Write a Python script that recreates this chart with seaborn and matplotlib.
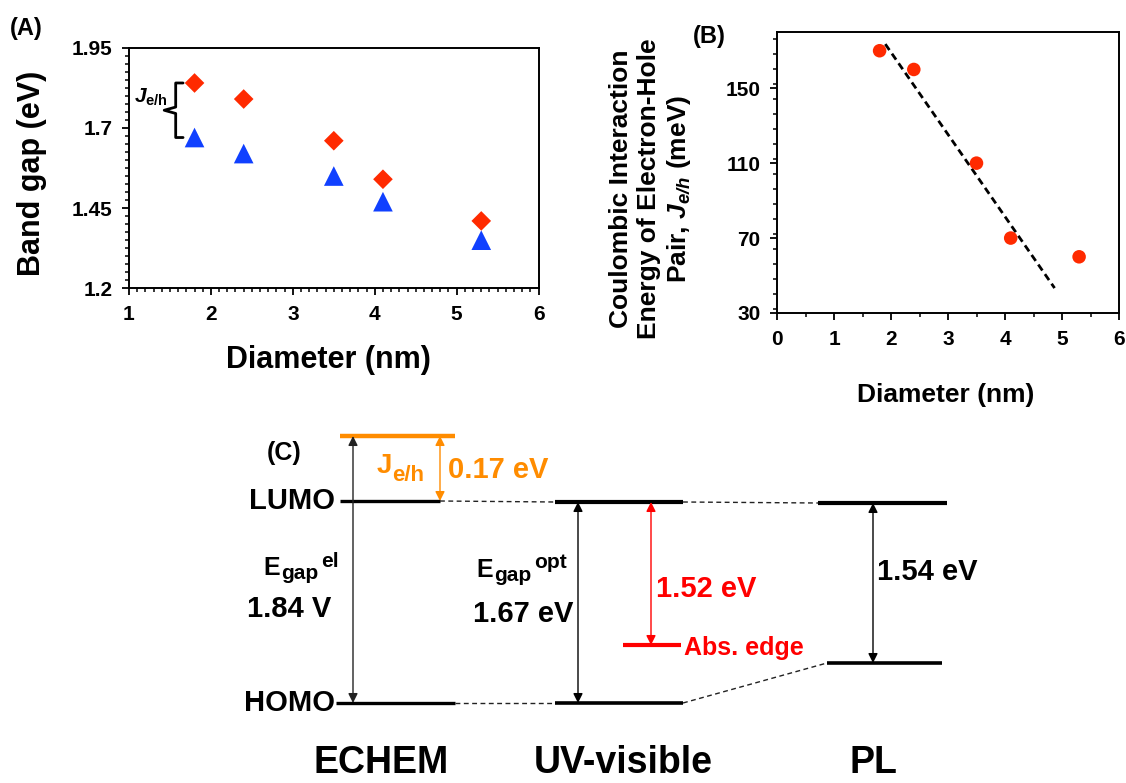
import numpy as np
import pandas as pd
import matplotlib
matplotlib.use("Agg")
import matplotlib.pyplot as plt
from matplotlib.ticker import MultipleLocator, FixedLocator
import seaborn as sns

# ------------------------------------------------------------------ data
diameter_nm = [1.8, 2.4, 3.5, 4.1, 5.3]
gap_echem_eV = [1.84, 1.79, 1.66, 1.54, 1.41]      # red diamonds
gap_optical_eV = [1.67, 1.62, 1.55, 1.47, 1.35]    # blue triangles
coulomb_meV = [170, 160, 110, 70, 60]              # panel B circles
fit_points_used = 4                                # linear fit over first 4 points
fit_x_range = [1.9, 4.87]                          # extent of the dashed fit line

xticks_A = [1, 2, 3, 4, 5, 6]
yticks_A = [1.2, 1.45, 1.7, 1.95]
xticks_B = [0, 1, 2, 3, 4, 5, 6]
yticks_B = [30, 70, 110, 150]

column_labels = ["ECHEM", "UV-visible", "PL"]
echem_gap_label = "1.84 V"
optical_gap_label = "1.67 eV"
abs_gap_label = "1.52 eV"
pl_gap_label = "1.54 eV"
jeh_value_label = "0.17 eV"

# ------------------------------------------------------------------ style
sns.set_theme(style="ticks")
plt.rcParams["font.family"] = ["Liberation Sans", "DejaVu Sans"]
plt.rcParams.update({
    "font.weight": "bold",
    "axes.labelweight": "bold",
    "text.color": "black",
    "axes.labelcolor": "black",
    "xtick.color": "black",
    "ytick.color": "black",
    "axes.edgecolor": "black",
    "mathtext.fontset": "custom",
    "mathtext.rm": "Liberation Sans:bold",
    "mathtext.bf": "Liberation Sans:bold",
    "mathtext.it": "Liberation Sans:italic",
    "mathtext.bfit": "Liberation Sans:italic:bold",
    "mathtext.sf": "Liberation Sans:bold",
})

RED = "#FF2A00"
BLUE = "#1040FF"
ORANGE = "#FF8C00"
PURE_RED = "#FF0000"

W, H = 1126, 783
fig = plt.figure(figsize=(W / 100, H / 100), dpi=100)

# overlay axes in pixel units for the schematic panel (C)
axC = fig.add_axes([0, 0, 1, 1])
axC.set_xlim(0, W)
axC.set_ylim(H, 0)
axC.axis("off")

axA = fig.add_axes([129 / W, 1 - 288.3 / H, 409.6 / W, 240.6 / H])
axB = fig.add_axes([777 / W, 1 - 313 / H, 342 / W, 281 / H])


def style_axes(ax):
    for s in ax.spines.values():
        s.set_visible(True)
        s.set_linewidth(1.4)
        s.set_color("black")
    ax.tick_params(which="major", direction="out", length=5, width=1.3,
                   labelsize=15, pad=7, colors="black")
    ax.tick_params(which="minor", direction="out", length=3, width=1.1,
                   colors="black")
    ax.tick_params(top=False, right=False, which="both")
    for lab in ax.get_xticklabels() + ax.get_yticklabels():
        lab.set_fontweight("bold")


# ------------------------------------------------------------------ panel A
sns.scatterplot(x=diameter_nm, y=gap_echem_eV, marker="D", color=RED, s=100,
                edgecolor="none", ax=axA, zorder=3)
sns.scatterplot(x=diameter_nm, y=gap_optical_eV, marker="^", color=BLUE, s=200,
                edgecolor="none", ax=axA, zorder=3)
axA.set_xlim(xticks_A[0], xticks_A[-1])
axA.set_ylim(yticks_A[0], yticks_A[-1])
axA.xaxis.set_major_locator(FixedLocator(xticks_A))
axA.yaxis.set_major_locator(FixedLocator(yticks_A))
axA.set_yticklabels([f"{v:g}" for v in yticks_A])
axA.xaxis.set_minor_locator(MultipleLocator(0.1))
axA.yaxis.set_minor_locator(MultipleLocator(0.025))
style_axes(axA)
axA.set_xlabel("Diameter (nm)", fontsize=22, fontweight="bold")
axA.set_ylabel("Band gap (eV)", fontsize=22, fontweight="bold")
axA.xaxis.label.set_va("center")
axA.yaxis.label.set_va("center")
axA.xaxis.set_label_coords(0.486, -0.298)
axA.yaxis.set_label_coords(-0.237, 0.479)

# J_e/h bracket spanning the first pair of points
y_top, y_bot = gap_echem_eV[0], gap_optical_eV[0]
y_mid = 0.5 * (y_top + y_bot)
bx, hook, tip = 1.57, 1.66, 1.43
axA.plot([hook, bx, bx, tip, bx, bx, hook],
         [y_top, y_top, y_mid + 0.01, y_mid, y_mid - 0.01, y_bot, y_bot],
         color="black", lw=2, solid_joinstyle="round", clip_on=False)
axA.text(1.48, 1.795, r"$\mathbfit{J}_{\mathrm{e/h}}$", fontsize=15,
         ha="right", va="center")
fig.text(26 / W, 1 - 28 / H, "(A)", fontsize=17, fontweight="bold",
         ha="center", va="center")

# ------------------------------------------------------------------ panel B
sns.scatterplot(x=diameter_nm, y=coulomb_meV, marker="o", color=RED, s=95,
                edgecolor="none", ax=axB, zorder=3)
slope, intercept = np.polyfit(diameter_nm[:fit_points_used],
                              coulomb_meV[:fit_points_used], 1)
fit_x = np.array(fit_x_range)
fit_y = slope * fit_x + intercept
sns.lineplot(x=fit_x, y=fit_y, color="black", lw=2, ax=axB, zorder=2)
axB.get_lines()[-1].set_dashes([2.6, 1.6])
axB.set_xlim(xticks_B[0], xticks_B[-1])
axB.set_ylim(30, 180)
axB.xaxis.set_major_locator(FixedLocator(xticks_B))
axB.yaxis.set_major_locator(FixedLocator(yticks_B))
axB.xaxis.set_minor_locator(MultipleLocator(0.5))
axB.yaxis.set_minor_locator(MultipleLocator(8))
style_axes(axB)
axB.set_xlabel("Diameter (nm)", fontsize=19, fontweight="bold")
axB.set_ylabel("Coulombic Interaction\nEnergy of Electron-Hole\n"
               r"Pair, $\mathbfit{J}_{\mathbfit{e/h}}$ (meV)",
               fontsize=19, fontweight="bold", multialignment="center")
axB.xaxis.label.set_va("center")
axB.yaxis.label.set_va("center")
axB.xaxis.set_label_coords(0.493, -0.292)
axB.yaxis.set_label_coords(-0.369, 0.441)
fig.text(709 / W, 1 - 37 / H, "(B)", fontsize=17, fontweight="bold",
         ha="center", va="center")

# ------------------------------------------------------------------ panel C (schematic)
# layout constants (pixel positions of the schematic)
Y_JEH, Y_LUMO, Y_HOMO = 436, 501, 703
Y_LUMO_UV, Y_ABS, Y_LUMO_PL, Y_HOMO_PL = 502, 645, 503, 663
levels = [  # x0, x1, y, color, lw
    (340, 455, Y_JEH, ORANGE, 3.2),
    (340, 440, Y_LUMO, "black", 2.4),
    (336, 455, Y_HOMO, "black", 2.4),
    (555, 683, Y_LUMO_UV, "black", 3.0),
    (555, 683, Y_HOMO, "black", 2.6),
    (623, 681, Y_ABS, PURE_RED, 3.0),
    (818, 947, Y_LUMO_PL, "black", 3.0),
    (827, 942, Y_HOMO_PL, "black", 2.6),
]
for x0, x1, y, c, lw in levels:
    axC.plot([x0, x1], [y, y], color=c, lw=lw, solid_capstyle="butt")

connectors = [
    ((440, Y_LUMO), (555, Y_LUMO_UV)),
    ((455, Y_HOMO), (555, Y_HOMO)),
    ((683, Y_LUMO_UV), (818, Y_LUMO_PL)),
    ((683, Y_HOMO), (827, Y_HOMO_PL)),
]
for (xa, ya), (xb, yb) in connectors:
    axC.plot([xa, xb], [ya, yb], color="#222222", lw=1.0, dashes=(3.5, 2.5))

arrows = [  # x, y_top, y_bottom, color
    (353, Y_JEH, Y_HOMO, "#222222"),
    (440, Y_JEH, Y_LUMO, ORANGE),
    (578, Y_LUMO_UV, Y_HOMO, "black"),
    (651, Y_LUMO_UV, Y_ABS, PURE_RED),
    (873, Y_LUMO_PL, Y_HOMO_PL, "black"),
]
for x, yt, yb, c in arrows:
    axC.annotate("", xy=(x, yb), xytext=(x, yt),
                 arrowprops=dict(arrowstyle="<|-|>", color=c, lw=1.0,
                                 shrinkA=0, shrinkB=0, mutation_scale=14))

txt = dict(fontweight="bold", va="baseline")
axC.text(284, 453, "(C)", fontsize=18, ha="center", va="center",
         fontweight="bold")
axC.text(335, Y_LUMO, "LUMO", fontsize=21, ha="right", va="center",
         fontweight="bold")
axC.text(335, Y_HOMO, "HOMO", fontsize=21, ha="right", va="center",
         fontweight="bold")

# J_e/h (orange) built from main letter + subscript
axC.text(377, 473, "J", fontsize=20, color=ORANGE, ha="left", **txt)
axC.text(392, 481, "e/h", fontsize=16, color=ORANGE, ha="left", **txt)
axC.text(448, 478, jeh_value_label, fontsize=21, color=ORANGE, ha="left", **txt)

# E_gap^el
axC.text(263, 575, "E", fontsize=18, ha="left", **txt)
axC.text(281, 579, "gap", fontsize=15, ha="left", **txt)
axC.text(321, 567, "el", fontsize=15, ha="left", **txt)
axC.text(331, 617, echem_gap_label, fontsize=21, ha="right", **txt)

# E_gap^opt
axC.text(476, 577, "E", fontsize=18, ha="left", **txt)
axC.text(494, 581, "gap", fontsize=15, ha="left", **txt)
axC.text(534, 568, "opt", fontsize=15, ha="left", **txt)
axC.text(573, 622, optical_gap_label, fontsize=21, ha="right", **txt)

axC.text(656, 597, abs_gap_label, fontsize=21, color=PURE_RED, ha="left", **txt)
axC.text(684, 655, "Abs. edge", fontsize=18, color=PURE_RED, ha="left", **txt)
axC.text(877, 580, pl_gap_label, fontsize=21, ha="left", **txt)

for cx, lab in zip([381, 623, 873], column_labels):
    axC.text(cx, 781, lab, fontsize=27, ha="center", va="bottom",
             fontweight="bold")

fig.savefig("out.png", dpi=100)
